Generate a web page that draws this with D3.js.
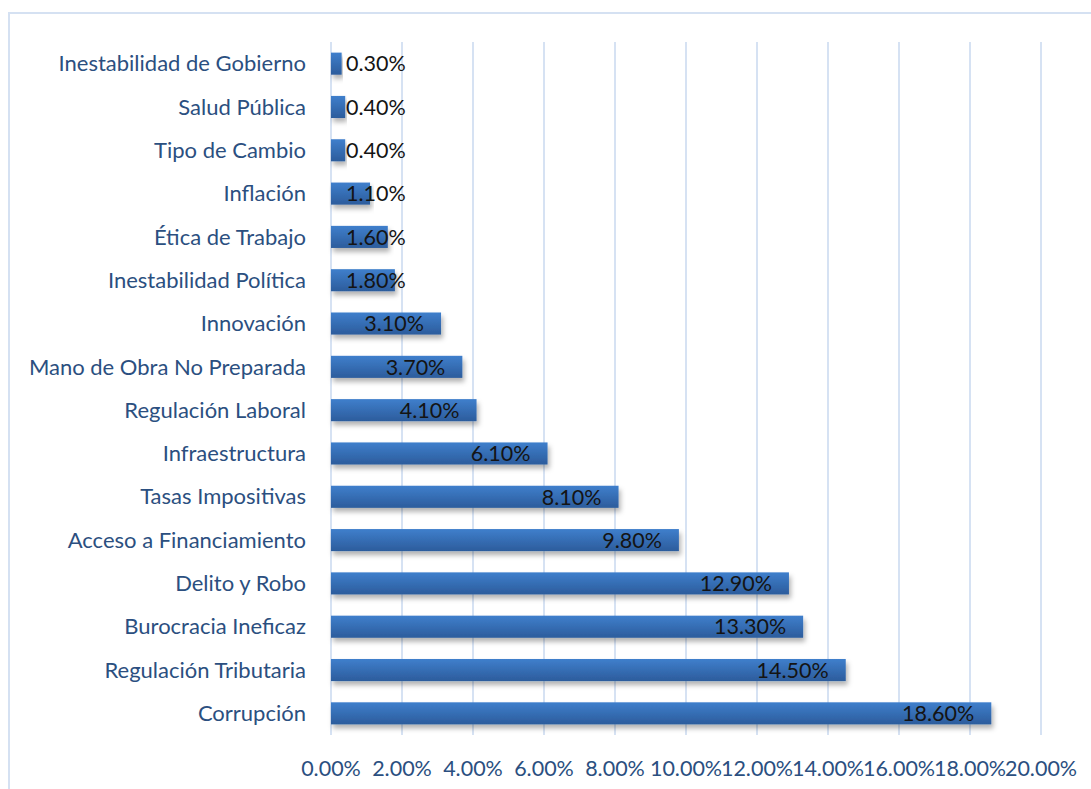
<!DOCTYPE html>
<html lang="es">
<head>
  <meta charset="UTF-8">
  <title>Obstáculos</title>
  <script src="https://d3js.org/d3.v7.min.js"></script>
  <style>
    body { margin: 0; background: #fff; }
    svg text { font-family: "Lato", "Open Sans", sans-serif; }
  </style>
</head>
<body>
<script>
  // categories, listed top to bottom as in the picture
  const categories = [
    'Inestabilidad de Gobierno', 'Salud Pública', 'Tipo de Cambio', 'Inflación',
    'Ética de Trabajo', 'Inestabilidad Política', 'Innovación', 'Mano de Obra No Preparada',
    'Regulación Laboral', 'Infraestructura', 'Tasas Impositivas', 'Acceso a Financiamiento',
    'Delito y Robo', 'Burocracia Ineficaz', 'Regulación Tributaria', 'Corrupción'
  ];
  const values = [0.3, 0.4, 0.4, 1.1, 1.6, 1.8, 3.1, 3.7, 4.1, 6.1, 8.1, 9.8, 12.9, 13.3, 14.5, 18.6];
  const xTicks = [0, 2, 4, 6, 8, 10, 12, 14, 16, 18, 20];

  const W = 1091, H = 789;
  const plot = { left: 331, right: 1041, top: 42, bottom: 735 };

  const svg = d3.select('body').append('svg')
    .attr('width', W).attr('height', H);

  // gradient + shadow for bars
  const defs = svg.append('defs');
  const grad = defs.append('linearGradient').attr('id', 'barGrad')
    .attr('x1', 0).attr('y1', 0).attr('x2', 0).attr('y2', 1);
  grad.append('stop').attr('offset', '0%').attr('stop-color', '#3f7fcc');
  grad.append('stop').attr('offset', '100%').attr('stop-color', '#2c5c9c');
  const shadow = defs.append('filter').attr('id', 'shadow')
    .attr('x', '-5%').attr('y', '-30%').attr('width', '115%').attr('height', '190%');
  shadow.append('feDropShadow').attr('dx', 2).attr('dy', 4).attr('stdDeviation', 2.5)
    .attr('flood-color', '#000').attr('flood-opacity', 0.3);

  // chart border
  svg.append('rect')
    .attr('x', 9).attr('y', 13).attr('width', W + 20).attr('height', H + 20)
    .attr('fill', 'none').attr('stroke', '#d5e1f2').attr('stroke-width', 2);

  const x = d3.scaleLinear().domain([0, 20]).range([plot.left, plot.right]);
  const y = d3.scaleBand().domain(categories).range([plot.top, plot.bottom]).paddingInner(0.49).paddingOuter(0.245);

  // gridlines
  svg.append('g').selectAll('line').data(xTicks).join('line')
    .attr('x1', d => x(d)).attr('x2', d => x(d))
    .attr('y1', plot.top).attr('y2', plot.bottom)
    .attr('stroke', '#d6e2f3').attr('stroke-width', 2);

  // x tick labels
  svg.append('g').selectAll('text').data(xTicks).join('text')
    .attr('x', d => x(d)).attr('y', 776)
    .attr('text-anchor', 'middle')
    .attr('fill', '#2b4f80').attr('font-size', 21.5)
    .text(d => d.toFixed(2) + '%');

  // category labels
  svg.append('g').selectAll('text').data(categories).join('text')
    .attr('x', 306).attr('y', d => y(d) + y.bandwidth() / 2)
    .attr('dy', '0.35em').attr('text-anchor', 'end')
    .attr('fill', '#2b4f80').attr('font-size', 22)
    .text(d => d);

  // bars
  svg.append('g').selectAll('rect').data(values).join('rect')
    .attr('x', x(0)).attr('y', (d, i) => y(categories[i]))
    .attr('width', d => x(d) - x(0)).attr('height', y.bandwidth())
    .attr('fill', 'url(#barGrad)').attr('filter', 'url(#shadow)');

  // data labels: inside end, pushed right when the bar is short
  const lbl = svg.append('g').selectAll('text').data(values).join('text')
    .attr('y', (d, i) => y(categories[i]) + y.bandwidth() / 2)
    .attr('dy', '0.36em')
    .attr('fill', '#141414').attr('font-size', 21.5)
    .text(d => d.toFixed(2) + '%');
  lbl.each(function(d) {
    const w = this.getComputedTextLength();
    const start = Math.max(x(0) + 15, x(d) - 17 - w);
    d3.select(this).attr('x', start);
  });
</script>
</body>
</html>
